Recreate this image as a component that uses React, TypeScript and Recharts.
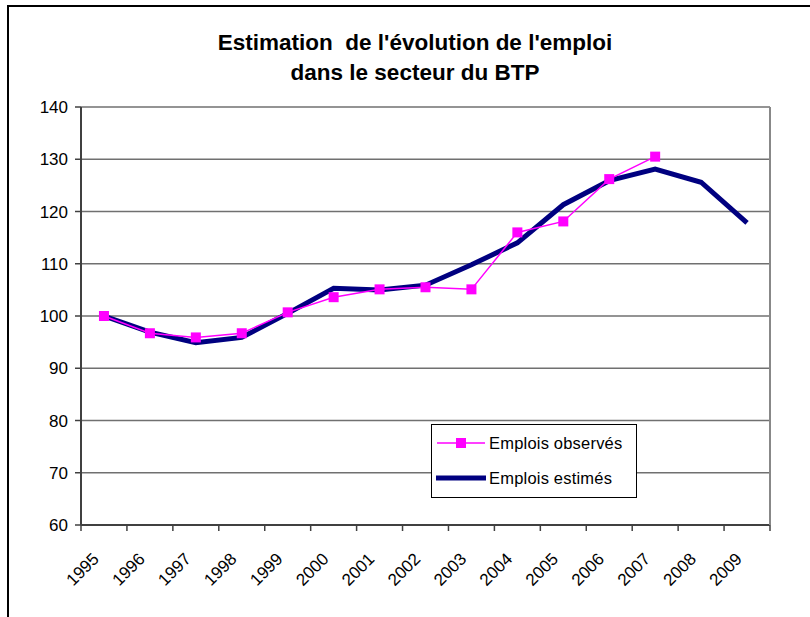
import { LineChart, Line, XAxis, YAxis, CartesianGrid } from "recharts";

const YEARS = ["1995", "1996", "1997", "1998", "1999", "2000", "2001", "2002", "2003", "2004", "2005", "2006", "2007", "2008", "2009"];
const OBSERVES = [100.0, 96.7, 95.9, 96.7, 100.7, 103.6, 105.1, 105.5, 105.1, 116.0, 118.1, 126.2, 130.5, null, null];
const ESTIMES = [100.0, 96.9, 94.9, 95.9, 100.5, 105.3, 105.0, 105.9, 109.8, 114.0, 121.3, 125.9, 128.1, 125.6, 117.8];
const Y_TICKS = [60, 70, 80, 90, 100, 110, 120, 130, 140];
const SERIES_NAMES = ["Emplois observés", "Emplois estimés"];
const TITLE = ["Estimation  de l'évolution de l'emploi", "dans le secteur du BTP"];

const W = 810;
const H = 617;
const PLOT_LEFT = 81;
const PLOT_RIGHT = 770;
const STEP = (PLOT_RIGHT - PLOT_LEFT) / YEARS.length;
const FONT = "'Liberation Sans', Arial, sans-serif";
const AXIS = "#404040";

const data = YEARS.map((y, i) => ({ year: y, observes: OBSERVES[i], estimes: ESTIMES[i] }));

function SquareDot({ cx, cy }: any) {
  if (cx == null || cy == null) return null;
  return <rect x={cx - 5} y={cy - 5} width={10} height={10} fill="#ff00ff" />;
}

function YearTick({ x, y, payload, index }: any) {
  return (
    <g>
      <line x1={x - STEP / 2} x2={x - STEP / 2} y1={y} y2={y + 6} stroke={AXIS} strokeWidth={1.5} />
      {index === YEARS.length - 1 && (
        <line x1={x + STEP / 2} x2={x + STEP / 2} y1={y} y2={y + 6} stroke={AXIS} strokeWidth={1.5} />
      )}
      <text
        x={x - 4}
        y={y + 35}
        transform={`rotate(-45 ${x - 4} ${y + 35})`}
        textAnchor="end"
        fontSize={17}
        fontFamily={FONT}
        fill="#000"
      >
        {payload.value}
      </text>
    </g>
  );
}

function LegendBox() {
  return (
    <div
      style={{
        position: "absolute",
        left: 431,
        top: 424,
        width: 204,
        height: 72,
        border: "1px solid #000",
        background: "#fff",
        fontFamily: FONT,
        fontSize: 16.5,
        color: "#000",
      }}
    >
      {SERIES_NAMES.map((name, i) => (
        <div key={name} style={{ position: "absolute", left: 4, top: i === 0 ? 6 : 41, height: 24, display: "flex", alignItems: "center" }}>
          <svg width={52} height={24}>
            {i === 0 ? (
              <>
                <line x1={1} x2={49} y1={12} y2={12} stroke="#ff00ff" strokeWidth={1.5} />
                <rect x={20} y={7} width={10} height={10} fill="#ff00ff" />
              </>
            ) : (
              <line x1={0} x2={50} y1={12} y2={12} stroke="#000080" strokeWidth={5} />
            )}
          </svg>
          <span style={{ marginLeft: 1, letterSpacing: 0.2 }}>{name}</span>
        </div>
      ))}
    </div>
  );
}

export default function App() {
  return (
    <div style={{ position: "absolute", left: 0, top: 0, width: W, height: H, background: "#fff", overflow: "hidden" }}>
      <div style={{ position: "absolute", left: 7, top: 5, right: 0, bottom: 0, borderTop: "2px solid #000", borderLeft: "2px solid #000" }} />
      {TITLE.map((t, i) => (
        <div
          key={t}
          style={{
            position: "absolute",
            left: 0,
            width: 830,
            top: 30 + i * 30,
            textAlign: "center",
            fontFamily: FONT,
            fontWeight: "bold",
            fontSize: 22.5,
            lineHeight: "26px",
            whiteSpace: "pre",
            color: "#000",
          }}
        >
          {t}
        </div>
      ))}
      <div style={{ position: "absolute", left: 0, top: 0 }}>
        <LineChart width={W} height={H} data={data} margin={{ top: 107, right: W - PLOT_RIGHT - 1, bottom: 32, left: 0 }}>
          <CartesianGrid horizontal vertical={false} stroke="#707070" strokeWidth={1.5} />
          <XAxis
            dataKey="year"
            interval={0}
            height={60}
            padding={{ left: STEP / 2, right: STEP / 2 }}
            tickLine={false}
            tickSize={0}
            tickMargin={0}
            axisLine={{ stroke: AXIS, strokeWidth: 2 }}
            tick={<YearTick />}
          />
          <YAxis
            width={PLOT_LEFT}
            domain={[60, 140]}
            ticks={Y_TICKS}
            tickSize={6}
            tickMargin={7}
            axisLine={{ stroke: AXIS, strokeWidth: 2 }}
            tickLine={{ stroke: AXIS, strokeWidth: 1.5 }}
            tick={{ fill: "#000", fontSize: 17, fontFamily: FONT }}
          />
          <YAxis
            yAxisId="r"
            orientation="right"
            width={1}
            domain={[60, 140]}
            tick={false}
            tickLine={false}
            axisLine={{ stroke: "#888", strokeWidth: 2 }}
          />
          <Line
            dataKey="estimes"
            name={SERIES_NAMES[1]}
            stroke="#000080"
            strokeWidth={5}
            dot={false}
            isAnimationActive={false}
          />
          <Line
            dataKey="observes"
            name={SERIES_NAMES[0]}
            stroke="#ff00ff"
            strokeWidth={1.5}
            dot={<SquareDot />}
            activeDot={false}
            isAnimationActive={false}
          />
        </LineChart>
      </div>
      <LegendBox />
    </div>
  );
}
